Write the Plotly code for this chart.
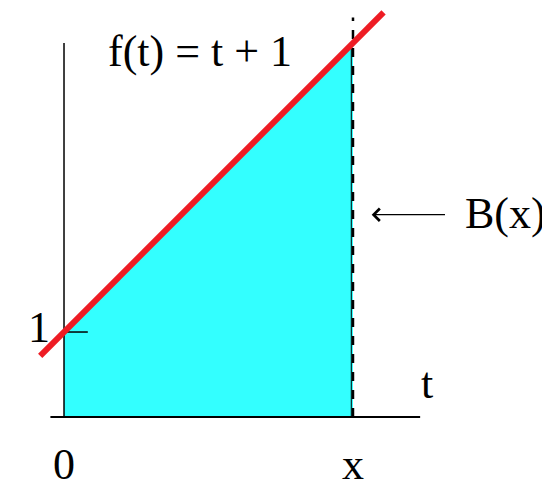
import plotly.graph_objects as go

# diagram values (t units)
xb = 3.4
line_t = [-0.28, 3.76]
line_f = [t + 1 for t in line_t]
fill_t = [0, 0, xb, xb, 0]
fill_f = [0, 1, xb + 1, 0, 0]

fig = go.Figure()
fig.add_trace(go.Scatter(x=fill_t, y=fill_f, fill="toself", fillcolor="#33ffff",
                         line=dict(width=0), mode="lines", hoverinfo="skip"))
# axes
fig.add_trace(go.Scatter(x=[-0.16, 4.19], y=[0, 0], mode="lines", line=dict(color="black", width=2)))
fig.add_trace(go.Scatter(x=[0, 0], y=[0, 4.4], mode="lines", line=dict(color="black", width=1.5)))
fig.add_trace(go.Scatter(x=[0, 0.28], y=[1, 1], mode="lines", line=dict(color="black", width=1.5)))
fig.add_trace(go.Scatter(x=[xb, xb], y=[0, 4.7], mode="lines", line=dict(color="black", width=2.5, dash="dash")))
fig.add_trace(go.Scatter(x=[xb - 0.02, xb - 0.02], y=[0, 4.4], mode="lines", line=dict(color="black", width=1)))
fig.add_trace(go.Scatter(x=line_t, y=line_f, mode="lines", line=dict(color="#ee1c24", width=6)))

font = dict(family="Liberation Serif", size=44, color="black")
for t, y, s in [(0, -0.56, "0"), (xb, -0.56, "x"), (4.27, 0.4, "t"), (-0.3, 1.05, "1"),
                (1.6, 4.3, "f(t) = t + 1"), (5.2, 2.4, "B(x)")]:
    fig.add_annotation(x=t, y=y, text=s, showarrow=False, font=font)
fig.add_annotation(x=3.62, y=2.38, ax=4.5, ay=2.38, xref="x", yref="y", axref="x", ayref="y",
                   text="", showarrow=True, arrowhead=4, arrowsize=2, arrowwidth=1.2, arrowcolor="black")

fig.update_layout(width=550, height=480, margin=dict(l=0, r=0, t=0, b=0),
                  showlegend=False, plot_bgcolor="white", paper_bgcolor="white",
                  xaxis=dict(range=[-0.659, 5.812], visible=False),
                  yaxis=dict(range=[-0.835, 4.812], visible=False))
fig.write_html("out.html")
